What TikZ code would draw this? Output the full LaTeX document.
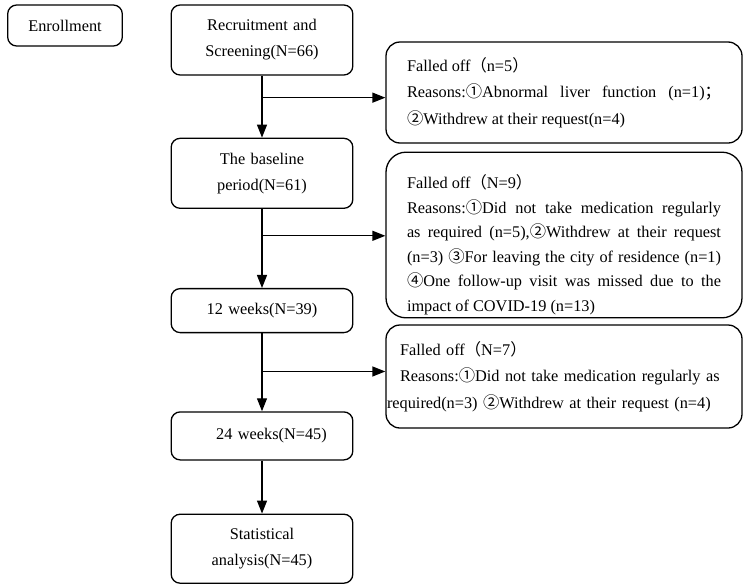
\documentclass[tikz,border=0pt]{standalone}
\usepackage{fontspec}
\setmainfont{Liberation Serif}
\newfontfamily\cjk{Noto Sans CJK SC}
\usetikzlibrary{positioning,arrows.meta}

\newcommand{\circnum}[1]{{\cjk #1}}
\newcommand{\fw}[1]{{\cjk #1}}
\hyphenpenalty=10000
\exhyphenpenalty=10000

\begin{document}
\begin{tikzpicture}[x=1pt, y=-1pt]
% Define styles
\tikzstyle{stage} = [rectangle, rounded corners=9pt, minimum width=181pt, text width=175pt, align=center, draw=black, line width=1.3pt, font=\fontsize{16.3}{26}\selectfont]
\tikzstyle{dropout} = [rectangle, rounded corners=14pt, minimum width=356pt, text width=314pt, draw=black, line width=1.3pt, font=\fontsize{16.3}{26.5}\selectfont]
\tikzstyle{arrow} = [line width=1.3pt,->,>={Triangle[length=13pt,width=10pt]}]

\useasboundingbox (0,0) rectangle (749,584);

% Place nodes
\node [stage, minimum width=114pt, text width=108pt, minimum height=41pt] (enroll) at (65,25.5) {Enrollment};
\node [stage, minimum height=70pt] (recruit) at (262,40) {Recruitment and\\Screening(N=66)};
\node [stage, minimum height=70pt, below=62pt of recruit] (baseline) {The baseline\\period(N=61)};
\node [stage, minimum height=44pt, below=79pt of baseline] (week12) {12 weeks(N=39)};
\node [stage, minimum height=48pt, below=78pt of week12] (week24) {\hspace*{19pt}24 weeks(N=45)};
\node [stage, minimum height=69pt, below=53pt of week24] (stats) {Statistical\\analysis(N=45)};

\node [dropout, minimum height=101pt, align=justify] (fall1) at (564,92.5) {Falled off\fw{（}n=5\fw{）}\\
Reasons:\circnum{①}Abnormal liver function (n=1)\fw{；}\linebreak
\circnum{②}Withdrew at their request(n=4)};
\node [dropout, minimum height=156pt, rounded corners=20pt, align=justify, font=\fontsize{16.3}{24.5}\selectfont] (fall2) at (564,235) {\rule{0pt}{33pt}Falled off\fw{（}N=9\fw{）}\\
Reasons:\circnum{①}Did not take medication regularly\linebreak
as required (n=5),\circnum{②}Withdrew at their request\linebreak
(n=3) \circnum{③}For leaving the city of residence (n=1)\linebreak
\circnum{④}One follow-up visit was missed due to the\linebreak
impact of COVID-19 (n=13)};
\node [dropout, minimum height=103pt, text width=328pt, align=left] (fall3) at (564,376.5) {Falled off\fw{（}N=7\fw{）}\\
Reasons:\circnum{①}Did not take medication regularly as\\
\hskip-13pt required(n=3) \circnum{②}Withdrew at their request (n=4)};

% Split points
\path (recruit) -- (baseline) coordinate[pos=0.355] (split1);
\path (baseline) -- (week12) coordinate[pos=0.34] (split2);
\path (week12) -- (week24) coordinate[pos=0.49] (split3);

% Draw arrows
\draw [arrow] (recruit) -- (baseline);
\draw [arrow] (baseline) -- (week12);
\draw [arrow] (week12) -- (week24);
\draw [arrow] (week24) -- (stats);
\draw [arrow] (split1) -- (split1 -| fall1.west);
\draw [arrow] (split2) -- (split2 -| fall2.west);
\draw [arrow] (split3) -- (split3 -| fall3.west);
\end{tikzpicture}
\end{document}
